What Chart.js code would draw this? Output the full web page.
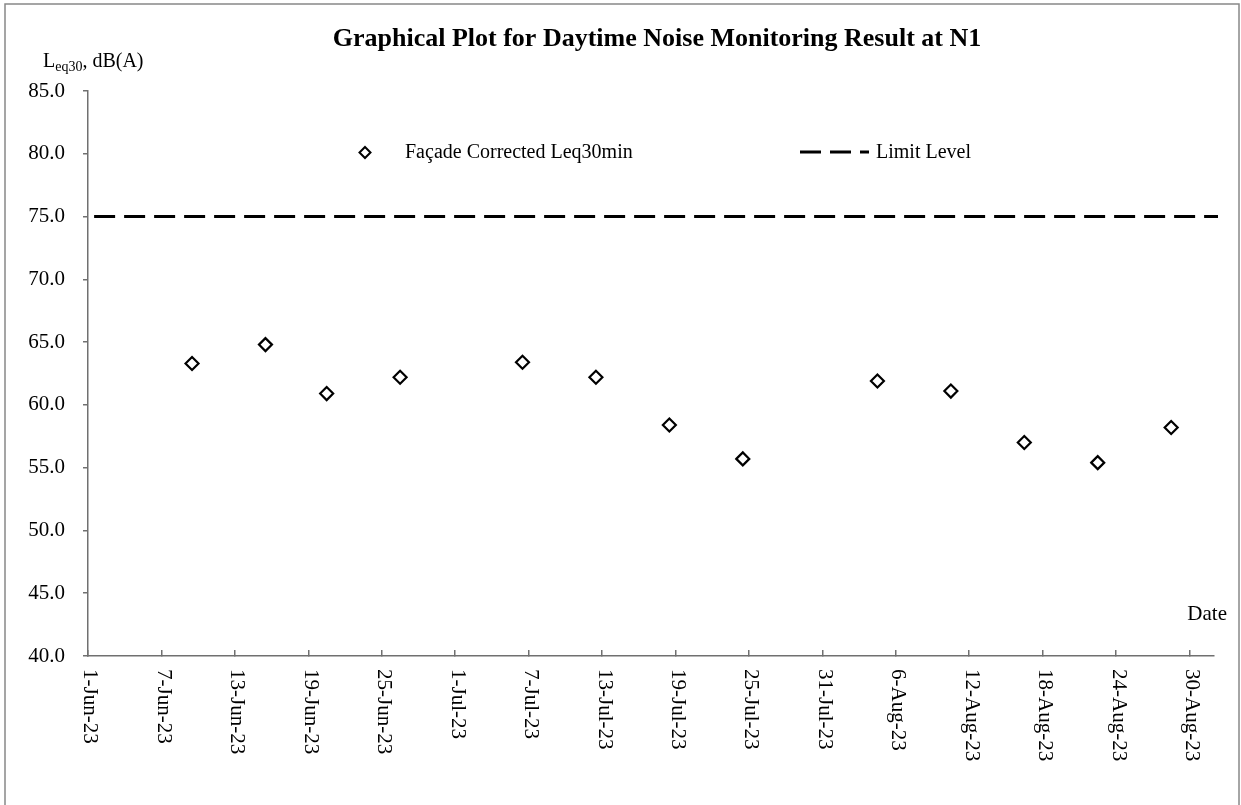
<!DOCTYPE html>
<html>
<head>
<meta charset="utf-8">
<script src="https://cdn.jsdelivr.net/npm/chart.js@4.4.0/dist/chart.umd.min.js"></script>
<style>
	body { margin: 0; background: #fff; }
	#wrap { width: 1241px; height: 805px; position: relative; }
</style>
</head>
<body>
<div id="wrap"><canvas id="noiseChart"></canvas></div>
<script>
// monitoring dates and facade corrected Leq30min readings, dB(A)
var dates = ['2023-06-09', '2023-06-15', '2023-06-20', '2023-06-26', '2023-07-06', '2023-07-12', '2023-07-18',
	'2023-07-24', '2023-08-04', '2023-08-10', '2023-08-16', '2023-08-22', '2023-08-28'];
var leqValues = [63.3, 64.8, 60.9, 62.2, 63.4, 62.2, 58.4, 55.7, 61.9, 61.1, 57.0, 55.4, 58.2];

// limit level series
var limitDates = ['2023-06-01', '2023-09-01'];
var limitValues = [75, 75];

var startDate = '2023-06-01';
var axisEndDate = '2023-09-01';
var monthNames = ['Jan', 'Feb', 'Mar', 'Apr', 'May', 'Jun', 'Jul', 'Aug', 'Sep', 'Oct', 'Nov', 'Dec'];

var serif = '"Liberation Serif", "Times New Roman", serif';
var axisColor = '#707070';

function dayNo(s) {
	var p = s.split('-');
	var q = startDate.split('-');
	return (Date.UTC(+p[0], p[1] - 1, +p[2]) - Date.UTC(+q[0], q[1] - 1, +q[2])) / 86400000;
}

function dateLabel(day) {
	var q = startDate.split('-');
	var d = new Date(Date.UTC(+q[0], q[1] - 1, +q[2]) + day * 86400000);
	return d.getUTCDate() + '-' + monthNames[d.getUTCMonth()] + '-' + String(d.getUTCFullYear()).slice(2);
}

// points sit in the middle of their day, like the spreadsheet date axis
var leqPoints = [];
for (var i = 0; i < dates.length; i++) {
	leqPoints.push({ x: dayNo(dates[i]) + 0.5, y: leqValues[i] });
}
var limitPoints = [];
for (var j = 0; j < limitDates.length; j++) {
	limitPoints.push({ x: dayNo(limitDates[j]) + 0.5, y: limitValues[j] });
}

var extras = {
	id: 'extras',
	beforeDraw: function(chart) {
		var c = chart.ctx;
		c.save();
		c.fillStyle = '#fff';
		c.fillRect(0, 0, chart.width, chart.height);
		c.strokeStyle = '#888';
		c.lineWidth = 1.5;
		c.strokeRect(5, 4, 1234, 820);
		c.restore();
	},
	afterDraw: function(chart) {
		var c = chart.ctx;
		var xs = chart.scales.x;
		var area = chart.chartArea;
		c.save();
		c.fillStyle = '#000';

		// title
		c.font = 'bold 26px ' + serif;
		c.textAlign = 'center';
		c.textBaseline = 'alphabetic';
		c.fillText('Graphical Plot for Daytime Noise Monitoring Result at N1', 657, 46);

		// y axis title with subscript
		c.textAlign = 'left';
		c.font = '20px ' + serif;
		c.fillText('L', 43, 67);
		var w = c.measureText('L').width;
		c.font = '14px ' + serif;
		c.fillText('eq30', 43 + w, 71);
		w += c.measureText('eq30').width;
		c.font = '20px ' + serif;
		c.fillText(', dB(A)', 43 + w, 67);

		// x axis title
		c.font = '21px ' + serif;
		c.textAlign = 'right';
		c.fillText('Date', 1227, 620);

		// x tick labels, reading downwards
		c.font = '21px ' + serif;
		c.textAlign = 'left';
		c.textBaseline = 'middle';
		xs.ticks.forEach(function(t) {
			var px = xs.getPixelForValue(t.value);
			c.save();
			c.translate(px + 2, area.bottom + 13);
			c.rotate(Math.PI / 2);
			c.fillText(dateLabel(t.value), 0, 0);
			c.restore();
		});

		// legend
		var ds0 = chart.data.datasets[0];
		var ds1 = chart.data.datasets[1];
		c.beginPath();
		c.moveTo(365, 147);
		c.lineTo(370.5, 152.5);
		c.lineTo(365, 158);
		c.lineTo(359.5, 152.5);
		c.closePath();
		c.fillStyle = ds0.pointBackgroundColor;
		c.fill();
		c.strokeStyle = ds0.pointBorderColor;
		c.lineWidth = 2;
		c.stroke();

		c.beginPath();
		c.setLineDash(ds1.borderDash);
		c.strokeStyle = ds1.borderColor;
		c.lineWidth = ds1.borderWidth;
		c.moveTo(800, 152);
		c.lineTo(869, 152);
		c.stroke();
		c.setLineDash([]);

		c.fillStyle = '#000';
		c.font = '20px ' + serif;
		c.textAlign = 'left';
		c.textBaseline = 'middle';
		c.fillText(ds0.label, 405, 153);
		c.fillText(ds1.label, 876, 153);
		c.restore();
	}
};

new Chart(document.getElementById('noiseChart'), {
	type: 'scatter',
	data: {
		datasets: [{
			label: 'Fa\u00e7ade Corrected Leq30min',
			data: leqPoints,
			showLine: false,
			pointStyle: 'rectRot',
			pointRadius: 6.5,
			pointBorderWidth: 2.2,
			pointBackgroundColor: '#fff',
			pointBorderColor: '#000'
		}, {
			label: 'Limit Level',
			type: 'line',
			data: limitPoints,
			borderColor: '#000',
			borderWidth: 3,
			borderDash: [21, 9],
			pointRadius: 0,
			clip: 4
		}]
	},
	options: {
		responsive: true,
		maintainAspectRatio: false,
		animation: false,
		layout: { padding: { left: 0, top: 91, right: 27, bottom: 0 } },
		plugins: {
			legend: { display: false },
			tooltip: { enabled: false }
		},
		scales: {
			x: {
				type: 'linear',
				min: 0,
				max: dayNo(axisEndDate),
				afterFit: function(s) { s.height = 149; },
				border: { color: axisColor, width: 1.5 },
				grid: { drawOnChartArea: false, drawTicks: true, tickLength: -6, color: axisColor, lineWidth: 1.5 },
				ticks: { stepSize: 6, includeBounds: false, display: false }
			},
			y: {
				min: 40,
				max: 85,
				afterFit: function(s) { s.width = 88; },
				border: { color: axisColor, width: 1.5 },
				grid: { drawOnChartArea: false, drawTicks: true, tickLength: 5, color: axisColor, lineWidth: 1.5 },
				ticks: {
					stepSize: 5,
					padding: 18,
					color: '#000',
					font: { family: serif, size: 21 },
					callback: function(v) { return v.toFixed(1); }
				}
			}
		}
	},
	plugins: [extras]
});
</script>
</body>
</html>
